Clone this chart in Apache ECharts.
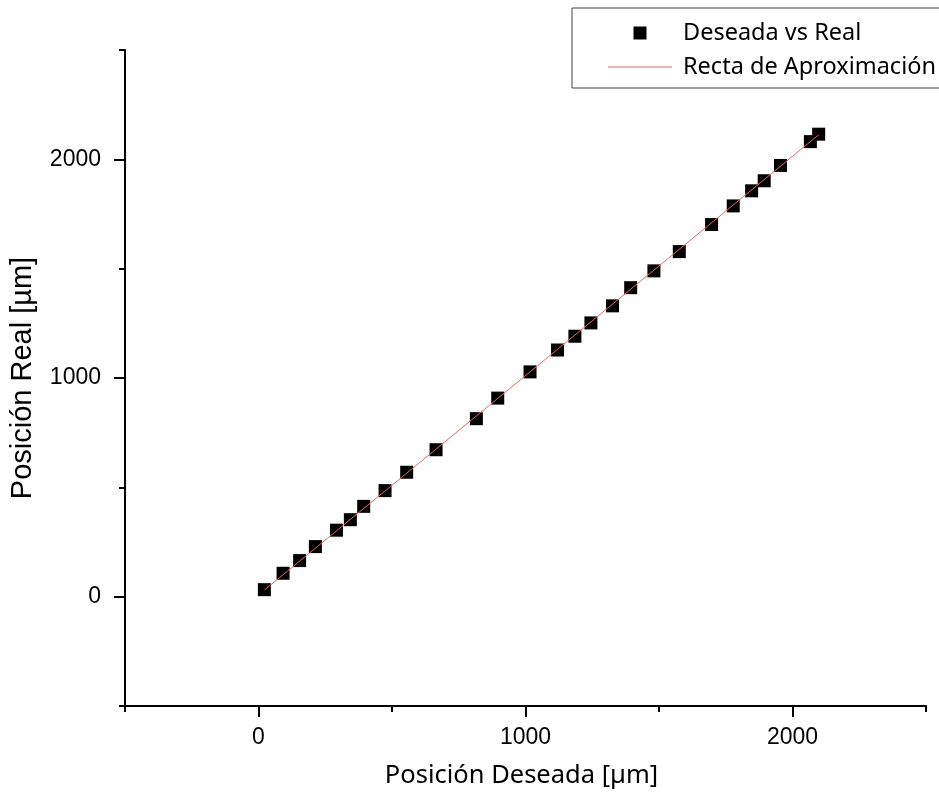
<!DOCTYPE html>
<html><head><meta charset="utf-8">
<script src="https://cdn.jsdelivr.net/npm/echarts@6/dist/echarts.min.js"></script>
<style>html,body{margin:0;padding:0;background:#fff}#c{width:939px;height:802px}</style>
</head><body><div id="c"></div>
<script>
const desiredX = [22, 92, 154, 213, 292, 344, 394, 474, 555, 665, 816, 896, 1017, 1120, 1185, 1245, 1326, 1394, 1481, 1576, 1697, 1778, 1847, 1894, 1955, 2067, 2098];
const realY    = [32, 107, 165, 229, 304, 352, 413, 485, 569, 672, 814, 908, 1028, 1128, 1191, 1252, 1330, 1413, 1490, 1578, 1702, 1787, 1856, 1902, 1972, 2081, 2115];
const fitX = [22, 2098];
const fitY = [30, 2112];
const majorTicks = [0, 1000, 2000];
const minorTicks = [-500, 500, 1500, 2500];
const seriesNames = ['Deseada vs Real', 'Recta de Aproximación'];
const xTitle = 'Posición Deseada [µm]';
const yTitle = 'Posición Real [µm]';

const chart = echarts.init(document.getElementById('c'), null, {renderer: 'canvas'});
const axisCommon = (isMinor) => ({
  type: 'value', min: -500, max: 2500,
  axisLine: {show: !isMinor, onZero: false, lineStyle: {color: '#000', width: 2}},
  axisTick: {show: true, inside: false, customValues: isMinor ? minorTicks : majorTicks,
             length: isMinor ? 6 : 11, lineStyle: {color: '#000', width: 2}},
  splitLine: {show: false},
  minorTick: {show: false}
});
const plain = v => String(v);
const xMain = Object.assign(axisCommon(false), {
  position: 'bottom',
  axisLabel: {show: true, customValues: majorTicks, formatter: plain, fontSize: 23, color: '#000', margin: 20, fontFamily: 'Liberation Sans'},
  name: xTitle, nameLocation: 'middle', nameGap: 57,
  nameTextStyle: {fontSize: 25.5, color: '#000', fontFamily: 'Noto Sans', padding: [0, 8, 0, 0]}
});
const xMinor = Object.assign(axisCommon(true), {position: 'bottom', axisLabel: {show: false}});
xMinor.axisLine = {show: false, onZero: false};
const yMain = Object.assign(axisCommon(false), {
  position: 'left',
  axisLabel: {show: true, customValues: majorTicks, formatter: plain, fontSize: 23, color: '#000', margin: 24, fontFamily: 'Liberation Sans'},
  name: yTitle, nameLocation: 'middle', nameGap: 88, nameRotate: 90,
  nameTextStyle: {fontSize: 29, color: '#000', fontFamily: 'Liberation Sans'}
});
const yMinor = Object.assign(axisCommon(true), {position: 'left', axisLabel: {show: false}});
yMinor.axisLine = {show: false, onZero: false};

chart.setOption({
  animation: false,
  backgroundColor: '#fff',
  grid: {left: 122, right: 13, top: 50, bottom: 96, containLabel: false},
  xAxis: [xMain, xMinor],
  yAxis: [yMain, yMinor],
  legend: {
    orient: 'vertical', left: 572, top: 8,
    padding: [13, 40, 9, 36],
    itemWidth: 64, itemHeight: 13, itemGap: 10,
    borderColor: '#444', borderWidth: 1,
    symbolKeepAspect: true,
    textStyle: {fontSize: 23.5, fontFamily: 'Noto Sans', color: '#000', lineHeight: 24, padding: [0, 0, 0, 6]},
    data: [
      {name: seriesNames[0], icon: 'path://M0,0H10V10H0Z'},
      {name: seriesNames[1], icon: 'path://M0,0H64V1H0Z'}
    ]
  },
  series: [
    {
      name: seriesNames[0], type: 'scatter', symbol: 'rect', symbolSize: 13,
      itemStyle: {color: '#000', opacity: 1},
      data: desiredX.map((x, i) => [x, realY[i]]), z: 2
    },
    {
      name: seriesNames[1], type: 'line', symbol: 'none', showSymbol: false,
      lineStyle: {color: '#e06a6a', width: 1}, itemStyle: {color: '#e06a6a'},
      data: fitX.map((x, i) => [x, fitY[i]]), z: 3
    }
  ]
});
</script>
</body></html>
